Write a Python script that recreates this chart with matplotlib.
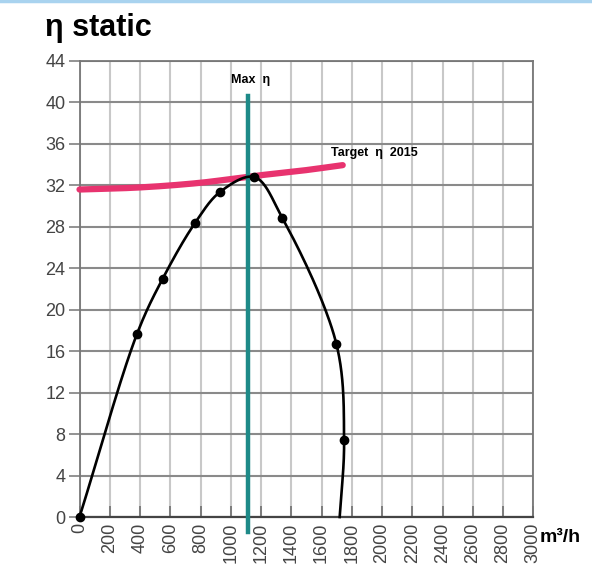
import matplotlib
matplotlib.use('Agg')
import matplotlib.pyplot as plt
from matplotlib.lines import Line2D
import numpy as np

plt.rcParams['font.family'] = ['Liberation Sans', 'DejaVu Sans']

# fan curve, measured points (m3/h, static efficiency %)
flow = [0, 381, 550, 765, 932, 1156, 1341, 1698, 1749]
eta = [0, 17.7, 23.0, 28.4, 31.4, 32.8, 28.85, 16.7, 7.4]
# curve runs on to the axis without a marker
flow_end = 1720
eta_end = 0

# target 2015 line
target_flow = [0, 400, 800, 1150, 1460, 1740]
target_eta = [31.6, 31.8, 32.25, 32.9, 33.4, 33.95]

max_flow = 1113
max_top = 40.6

x_ticks = list(range(0, 3001, 200))
y_ticks = list(range(0, 45, 4))

GRID_H = '#8a8a8a'
GRID_V = '#c8c8c8'
PINK = '#e8336f'
TEAL = '#1e8a88'

# rough pixel scale of the axes, used only to smooth the drawn lines
SX = 0.1511
SY = 10.364


def smooth(xs, ys, n=40):
    # centripetal catmull-rom through the points, for drawing only
    p = np.column_stack([np.asarray(xs)*SX, np.asarray(ys)*SY]).astype(float)
    p = np.vstack([2*p[0]-p[1], p, 2*p[-1]-p[-2]])
    out = []
    for i in range(1, len(p) - 2):
        p0, p1, p2, p3 = p[i-1], p[i], p[i+1], p[i+2]
        t0 = 0.0
        t1 = t0 + np.linalg.norm(p1-p0)**0.5
        t2 = t1 + np.linalg.norm(p2-p1)**0.5
        t3 = t2 + np.linalg.norm(p3-p2)**0.5
        t = np.linspace(t1, t2, n)[:, None]
        a1 = (t1-t)/(t1-t0)*p0 + (t-t0)/(t1-t0)*p1
        a2 = (t2-t)/(t2-t1)*p1 + (t-t1)/(t2-t1)*p2
        a3 = (t3-t)/(t3-t2)*p2 + (t-t2)/(t3-t2)*p3
        b1 = (t2-t)/(t2-t0)*a1 + (t-t0)/(t2-t0)*a2
        b2 = (t3-t)/(t3-t1)*a2 + (t-t1)/(t3-t1)*a3
        c = (t2-t)/(t2-t1)*b1 + (t-t1)/(t2-t1)*b2
        out.append(c)
    out = np.vstack(out)
    return out[:, 0]/SX, out[:, 1]/SY


fig = plt.figure(figsize=(5.92, 5.78), dpi=100)
ax = fig.add_axes([0.1343, 0.1055, 0.7666, 0.789])

ax.set_xlim(0, 3000)
ax.set_ylim(0, 44)
ax.set_xticks(x_ticks)
ax.set_yticks(y_ticks)
ax.set_xticklabels([str(v) for v in x_ticks], rotation=90)

ax.grid(axis='x', color=GRID_V, lw=1.5, zorder=0)
ax.grid(axis='y', color=GRID_H, lw=1.5, zorder=0)
ax.set_axisbelow(True)

for s in ax.spines.values():
    s.set_color('#777777')
    s.set_linewidth(1.3)
ax.spines['bottom'].set_color('#444444')
ax.spines['bottom'].set_linewidth(1.6)

ax.tick_params(axis='y', direction='out', length=8, width=1.3, color=GRID_H,
               labelsize=13, labelcolor='#444444', pad=2)
ax.tick_params(axis='x', direction='in', length=8, width=1.3, color='#777777',
               labelsize=13, labelcolor='#444444', pad=4)

# target line
tx, ty = smooth(target_flow, target_eta)
ax.plot(tx, ty, color=PINK, lw=4.5, solid_capstyle='round', zorder=3, clip_on=False)

# max efficiency marker line
ax.add_line(Line2D([max_flow, max_flow], [-1.4, max_top], color=TEAL, lw=3.2,
                   zorder=4, clip_on=False))

# fan curve
cx, cy = smooth(flow + [flow_end], eta + [eta_end])
ax.plot(cx, cy, color='black', lw=1.9, zorder=5, clip_on=False)
ax.plot(flow, eta, 'o', color='black', ms=6, zorder=6, clip_on=False)

ax.text(1130, 41.6, 'Max  η', fontsize=9, fontweight='bold', ha='center',
        va='bottom', fontstretch='condensed')
ax.text(1660, 34.5, 'Target  η  2015', fontsize=9, fontweight='bold',
        ha='left', va='bottom', fontstretch='condensed')

fig.text(45/592, 1-28/578, 'η static', fontsize=22, fontweight='bold',
         ha='left', va='center')
fig.text(540/592, 1-537/578, 'm³/h', fontsize=14, fontweight='bold',
         ha='left', va='center')

# thin blue rule along the top edge
fig.add_artist(Line2D([0, 1], [0.998, 0.998], transform=fig.transFigure,
                      color='#a9d3ef', lw=2.5))

fig.savefig('out.png', dpi=100)
